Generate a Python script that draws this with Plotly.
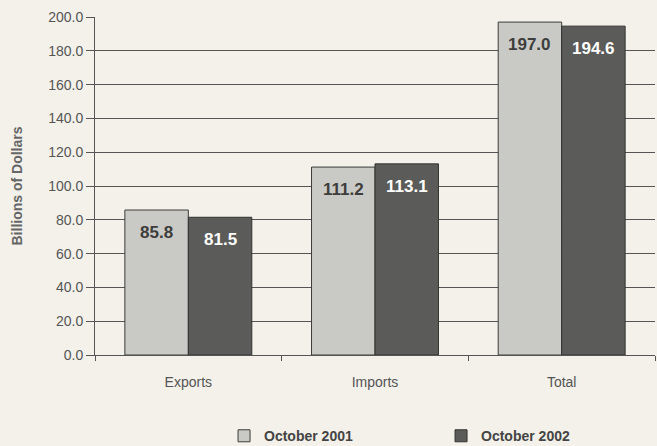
import plotly.graph_objects as go

categories = ["Exports", "Imports", "Total"]
oct_2001 = [85.8, 111.2, 197.0]
oct_2002 = [81.5, 113.1, 194.6]
y_ticks = [0, 20, 40, 60, 80, 100, 120, 140, 160, 180, 200]

bg = "#f3f1ea"
font_family = "Liberation Sans, Arial, sans-serif"
label_font = dict(family=font_family, size=17, weight="bold")

fig = go.Figure()

fig.add_trace(go.Bar(
    x=categories, y=oct_2001, name="October 2001",
    marker=dict(color="#c9c9c5", line=dict(color="#3c3c3a", width=1)),
))
fig.add_trace(go.Bar(
    x=categories, y=oct_2002, name="October 2002",
    marker=dict(color="#5b5b59", line=dict(color="#333331", width=1)),
))

# value labels sitting just inside the top of each bar
for cat, v1, v2 in zip(categories, oct_2001, oct_2002):
    fig.add_annotation(x=cat, y=v1, text=f"{v1:.1f}", showarrow=False,
                       xshift=-32, yshift=-11, yanchor="top",
                       font=dict(label_font, color="#3d3d3b"))
    fig.add_annotation(x=cat, y=v2, text=f"{v2:.1f}", showarrow=False,
                       xshift=32, yshift=-11, yanchor="top",
                       font=dict(label_font, color="#ffffff"))

fig.update_layout(
    width=657, height=446,
    paper_bgcolor=bg, plot_bgcolor=bg,
    margin=dict(l=95, r=2, t=17, b=91, autoexpand=False),
    barmode="group", bargap=0.32, bargroupgap=0,
    font=dict(family=font_family, size=14, color="#555555"),
    showlegend=True,
    legend=dict(
        orientation="h", xref="container", x=0.341, xanchor="left",
        yref="container", y=0.022, yanchor="middle",
        entrywidth=172, entrywidthmode="pixels", itemwidth=30,
        font=dict(size=14, color="#444444", weight="bold"),
        bgcolor="rgba(0,0,0,0)",
    ),
)

fig.update_xaxes(
    showgrid=False, showline=True, linecolor="#555555", linewidth=1,
    ticks="outside", tickson="boundaries", ticklen=5, tickcolor="#555555",
    tickfont=dict(size=14, color="#555555"), ticklabelstandoff=14,
)
fig.update_yaxes(
    range=[0, 200], tickvals=y_ticks, tickformat=".1f",
    showgrid=True, gridcolor="#555555", gridwidth=1,
    showline=True, linecolor="#555555", linewidth=1,
    ticks="outside", ticklen=8, tickcolor="#555555",
    tickfont=dict(size=14, color="#555555"),
    title=dict(text="<b>Billions of Dollars</b>", font=dict(size=14, color="#666666"), standoff=22),
    zeroline=False,
)

fig.write_html(
    "out.html",
    config={"displayModeBar": False},
    post_script=f"document.body.style.margin='0';document.body.style.background='{bg}';",
)
